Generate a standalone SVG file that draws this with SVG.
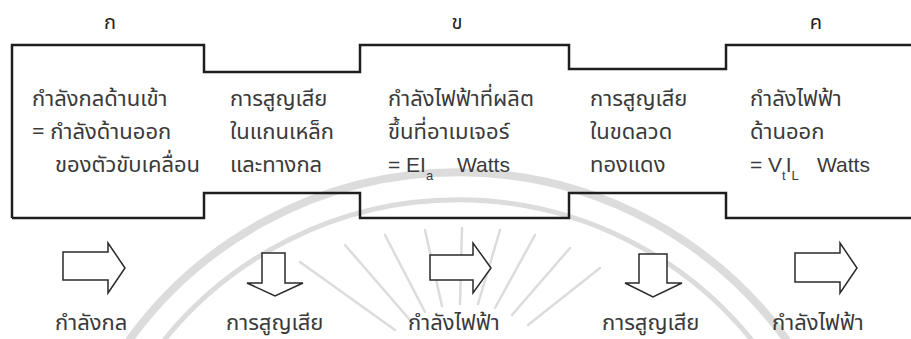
<svg xmlns="http://www.w3.org/2000/svg" width="911" height="339" viewBox="0 0 911 339">
<style>
.wm{fill:none;stroke:#dcdcdc;stroke-linecap:round}
.frame{fill:none;stroke:#1e1e1e;stroke-width:2.5;stroke-linejoin:miter}
.arr{fill:#fff;stroke:#2a2a2a;stroke-width:1.5;stroke-linejoin:miter}
text{font-family:"Noto Sans Thai","Noto Sans","Liberation Sans",sans-serif;fill:#3a3a3a;font-size:22px}
.hd{font-size:20px;fill:#222}
.lat{font-family:"Liberation Sans",Arial,sans-serif;font-size:21px}
.sub{font-family:"Liberation Sans",Arial,sans-serif;font-size:13px}
</style>
<rect width="911" height="339" fill="#fff"/>
<g id="watermark">
<path class="wm" stroke-width="8" d="M130,339 A406,406 0 0 1 786,339"/>
<path class="wm" stroke-width="5" d="M165,339 A378,378 0 0 1 751,339"/>
<g class="wm" stroke-width="2.5">
<line x1="395" y1="330" x2="300" y2="262"/>
<line x1="410" y1="320" x2="345" y2="245"/>
<line x1="425" y1="312" x2="385" y2="235"/>
<line x1="442" y1="306" x2="425" y2="230"/>
<line x1="460" y1="304" x2="462" y2="228"/>
<line x1="478" y1="304" x2="500" y2="230"/>
<line x1="495" y1="308" x2="535" y2="235"/>
<line x1="512" y1="315" x2="570" y2="248"/>
<line x1="528" y1="325" x2="600" y2="268"/>
</g>
</g>
<g id="frame">
<path class="frame" d="M12,218 L12,45 L204,45 L204,72 L360,72 L360,45 L569,45 L569,69 L726,69 L726,45 L911,45"/>
<path class="frame" d="M12,218 L204,218 L204,193 L360,193 L360,218 L569,218 L569,193 L726,193 L726,218 L911,218"/>
</g>
<g id="headers">
<text class="hd" x="110" y="29" text-anchor="middle">ก</text>
<text class="hd" x="457" y="29" text-anchor="middle">ข</text>
<text class="hd" x="816" y="29" text-anchor="middle">ค</text>
</g>
<g id="node-input">
<text x="32" y="106">กำลังกลด้านเข้า</text>
<text x="32" y="139">= กำลังด้านออก</text>
<text x="55" y="172">ของตัวขับเคลื่อน</text>
</g>
<g id="node-core-loss">
<text x="230" y="106">การสูญเสีย</text>
<text x="230" y="139">ในแกนเหล็ก</text>
<text x="230" y="172">และทางกล</text>
</g>
<g id="node-generated">
<text x="388" y="106">กำลังไฟฟ้าที่ผลิต</text>
<text x="388" y="139">ขึ้นที่อาเมเจอร์</text>
<text class="lat" x="388" y="172">= EI<tspan class="sub" dy="8">a</tspan><tspan dy="-8" x="457">Watts</tspan></text>
</g>
<g id="node-copper-loss">
<text x="590" y="106">การสูญเสีย</text>
<text x="590" y="139">ในขดลวด</text>
<text x="590" y="172">ทองแดง</text>
</g>
<g id="node-output">
<text x="750" y="106">กำลังไฟฟ้า</text>
<text x="750" y="139">ด้านออก</text>
<text class="lat" x="750" y="172">= V<tspan class="sub" dy="8">t</tspan><tspan dy="-8">I</tspan><tspan class="sub" dy="8">L</tspan><tspan dy="-8" x="817">Watts</tspan></text>
</g>
<g id="connectors">
<path class="arr" d="M63,252 L108,252 L108,243 L125,268 L108,293 L108,280 L63,280 Z"/>
<path class="arr" d="M262,253 L285,253 L285,283 L303,283 L275,296 L247,283 L262,283 Z"/>
<path class="arr" d="M430,255 L473,255 L473,243 L491,268 L473,293 L473,280 L430,280 Z"/>
<path class="arr" d="M639,254 L667,254 L667,283 L682,283 L653,297 L625,283 L639,283 Z"/>
<path class="arr" d="M795,253 L840,253 L840,243 L857,268 L840,293 L840,282 L795,282 Z"/>
</g>
<g id="labels">
<text x="55" y="330">กำลังกล</text>
<text x="226" y="330">การสูญเสีย</text>
<text x="408" y="330">กำลังไฟฟ้า</text>
<text x="602" y="330">การสูญเสีย</text>
<text x="772" y="330">กำลังไฟฟ้า</text>
</g>
</svg>
